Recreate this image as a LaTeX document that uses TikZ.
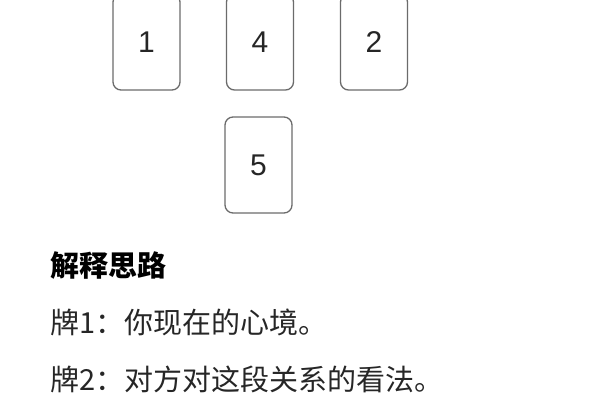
\documentclass[tikz,border=0pt]{standalone}
\usepackage{fontspec}
\setmainfont{Liberation Sans}
\newfontfamily\cjk{Noto Sans CJK SC}
\begin{document}
\begin{tikzpicture}[x=1pt,y=-1pt]
\tikzstyle{card}=[draw=black!58, line width=1.3pt, rounded corners=8pt, minimum width=67pt, minimum height=96pt, inner sep=0pt, font=\fontsize{30}{33}\selectfont, text=black!85]
\tikzstyle{line}=[anchor=west, inner sep=0pt, font=\cjk\fontsize{29}{32}\selectfont, text=black!85]
\useasboundingbox (0,0) rectangle (600,400);
% spread
\node [card] (c1) at (146.5,42) {1};
\node [card] (c4) at (260,42) {4};
\node [card] (c2) at (374,42) {2};
\node [card] (c5) at (258.5,165) {5};
% notes
\node [line, font=\cjk\bfseries\fontsize{29}{32}\selectfont, text=black] (head) at (50,266) {解释思路};
\node [line] (n1) at (50,322) {牌1：你现在的心境。};
\node [line] (n2) at (50,379) {牌2：对方对这段关系的看法。};
\end{tikzpicture}
\end{document}
